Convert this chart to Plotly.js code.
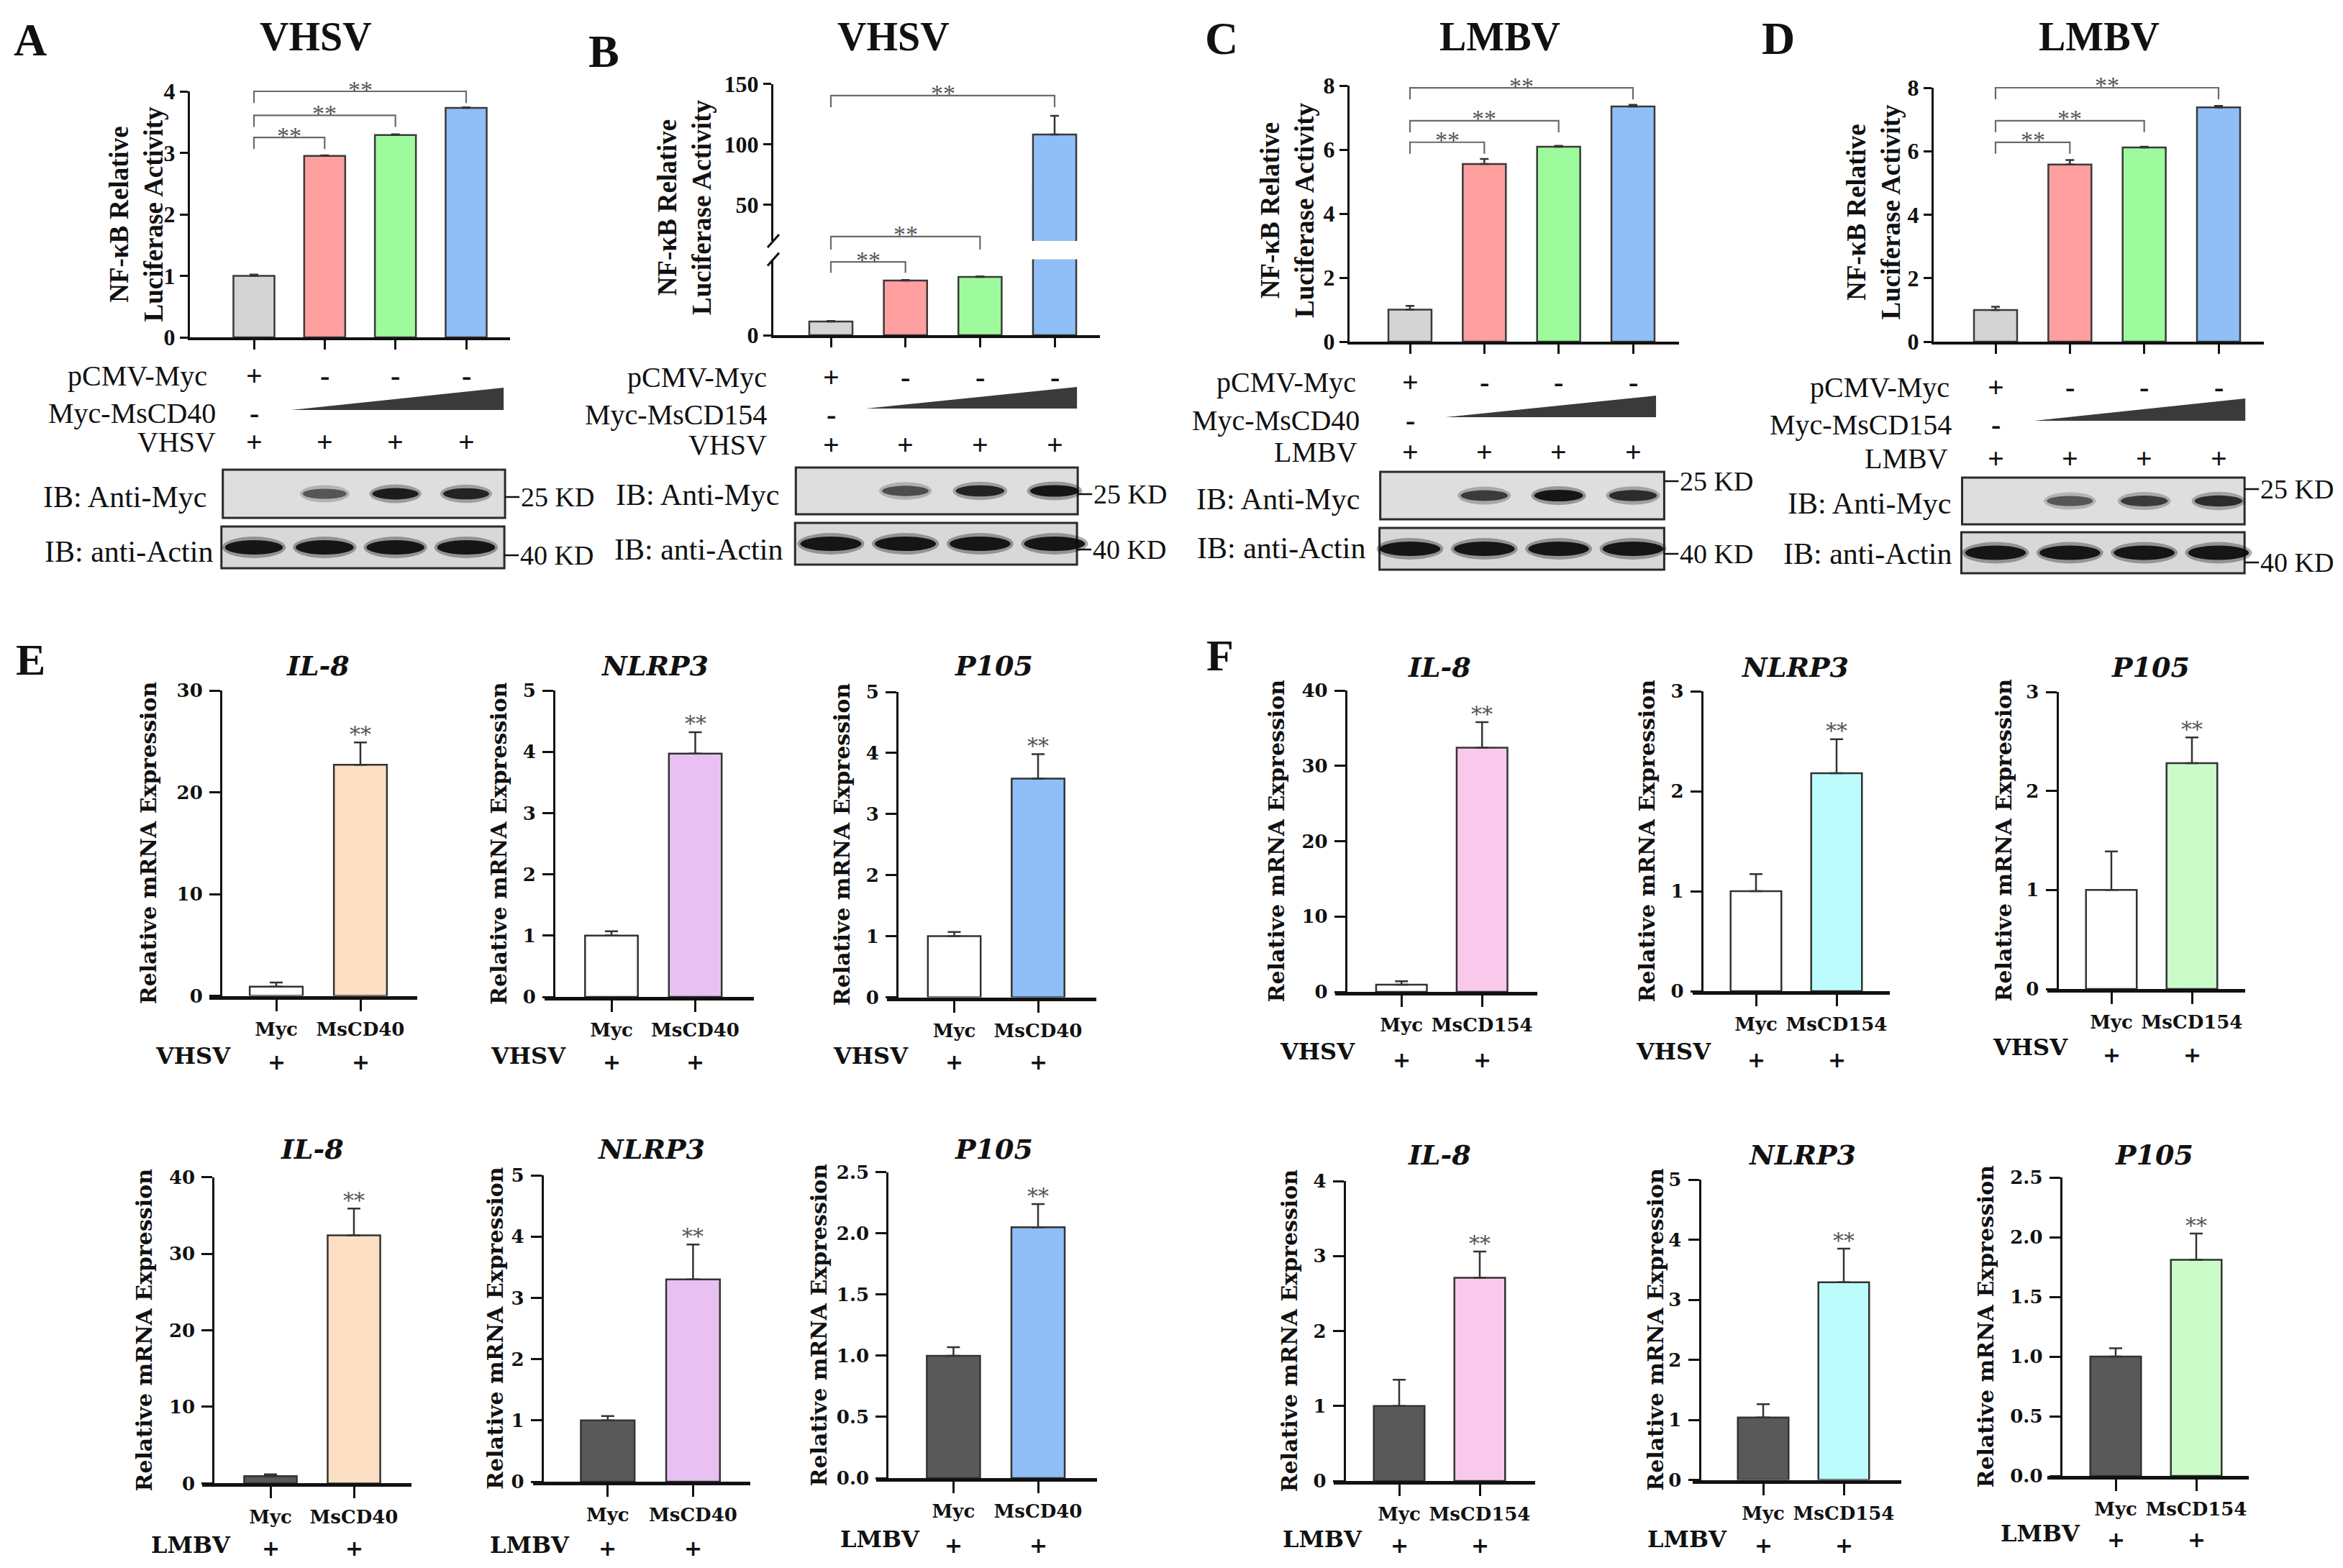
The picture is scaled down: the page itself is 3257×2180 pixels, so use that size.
<!DOCTYPE html>
<html><head><meta charset="utf-8">
<script src="https://cdn.plot.ly/plotly-3.0.1.min.js"></script>
<style>html,body{margin:0;padding:0;background:#fff}#chart{width:3257px;height:2180px}</style>
</head><body><div id="chart"></div>
<script>
// ================= DATA =================
// Panels A-D : NF-kB luciferase (4 lanes)
const laneIdx = [0, 1, 2, 3];
const lucA = [1.00, 2.95, 3.29, 3.73];
const lucAErr = [0.02, 0.01, 0.01, 0.01];
const lucB = [1.0, 4.0, 4.26, 108];
const lucBErr = [0.04, 0.04, 0.04, 15.5];
const lucC = [1.0, 5.55, 6.09, 7.35];
const lucCErr = [0.12, 0.16, 0.03, 0.05];
const lucD = [1.0, 5.58, 6.12, 7.38];
const lucDErr = [0.10, 0.14, 0.02, 0.05];
const noDown4 = [0, 0, 0, 0];
const lucColors = ['#d4d4d4', '#ff9f9f', '#9efb9d', '#8fbff6'];

// treatment rows
const rowVector = ['+', '-', '-', '-'];
const rowVirus = ['+', '+', '+', '+'];
const rowConstructFirst = '-';

// western blot band intensities (0..1)
const mycBandA = [0, 0.6, 0.95, 0.9];
const mycBandB = [0, 0.65, 0.9, 1.0];
const mycBandC = [0, 0.75, 1.0, 0.85];
const mycBandD = [0, 0.6, 0.75, 0.85];
const actinBand = [1, 1, 1, 1];

// Panels E-F : qPCR (2 groups)
const qCats = [0, 1];
const noDown2 = [0, 0];
const qLabelsCD40 = ['Myc', 'MsCD40'];
const qLabelsCD154 = ['Myc', 'MsCD154'];
const eVhsvIL8 = [0.9, 22.7], eVhsvIL8Err = [0.4, 2.2];
const eVhsvNLRP3 = [1.0, 3.97], eVhsvNLRP3Err = [0.07, 0.35];
const eVhsvP105 = [1.0, 3.58], eVhsvP105Err = [0.07, 0.4];
const eLmbvIL8 = [0.95, 32.4], eLmbvIL8Err = [0.25, 3.5];
const eLmbvNLRP3 = [1.0, 3.3], eLmbvNLRP3Err = [0.07, 0.57];
const eLmbvP105 = [1.0, 2.05], eLmbvP105Err = [0.07, 0.19];
const fVhsvIL8 = [0.95, 32.4], fVhsvIL8Err = [0.45, 3.4];
const fVhsvNLRP3 = [1.0, 2.18], fVhsvNLRP3Err = [0.17, 0.34];
const fVhsvP105 = [1.0, 2.28], fVhsvP105Err = [0.39, 0.26];
const fLmbvIL8 = [1.0, 2.71], fLmbvIL8Err = [0.35, 0.35];
const fLmbvNLRP3 = [1.04, 3.29], fLmbvNLRP3Err = [0.22, 0.56];
const fLmbvP105 = [1.0, 1.81], fLmbvP105Err = [0.07, 0.22];
const colIL8E = '#fde0c4', colNLRP3E = '#e8c1f2', colP105E = '#8fbff6';
const colIL8F = '#f9c9ec', colNLRP3F = '#bdfcfc', colP105F = '#cafbc9';
const ctrlVhsv = '#ffffff', ctrlLmbv = '#595959';

// ================= LAYOUT HELPERS =================
const W = 3257, H = 2180;
const X = p => p / W, Y = p => 1 - p / H;
const serif = '"Liberation Serif","Times New Roman",serif';
const dserif = '"DejaVu Serif","Liberation Serif",serif';
const data = [], shapes = [], annotations = [];
const layout = {width: W, height: H, margin: {l: 0, r: 0, t: 0, b: 0}, paper_bgcolor: '#ffffff',
  plot_bgcolor: 'rgba(0,0,0,0)', showlegend: false, shapes: shapes, annotations: annotations, bargap: 0};
let axN = 0;
function refs(n) { return {xk: n === 1 ? 'xaxis' : 'xaxis' + n, yk: n === 1 ? 'yaxis' : 'yaxis' + n,
  xr: n === 1 ? 'x' : 'x' + n, yr: n === 1 ? 'y' : 'y' + n}; }
function ann(o) { annotations.push(Object.assign({showarrow: false}, o)); }
function ptxt(x, y, text, font, opts) {
  ann(Object.assign({xref: 'paper', yref: 'paper', x: X(x), y: Y(y), text: text, font: font,
    xanchor: 'center', yanchor: 'middle'}, opts || {}));
}
const F = (family, size, color) => ({family: family, size: size, color: color || '#111'});

// ================= PANELS A-D =================
const lucPanels = [
  {letter: 'A', letterXY: [42, 55], title: 'VHSV', titleXY: [439, 51], vals: lucA, err: lucAErr, bands: mycBandA,
   construct: 'Myc-MsCD40', virus: 'VHSV', yAx: 264, xEnd: 709, c0: 353, c3: 648, y0px: 469, yTopPx: 127, yTop: 4, dtick: 1,
   ytitle: [189.5, 298], rows: [522, 574, 615], rowRight: [290, 302, 302], tri: [0.53, 570, 3.53, 539],
   blot1: [-0.44, 653, 3.55, 720], blot2: [-0.46, 732, 3.54, 790], ibRight: [290, 298], ibY: [691, 767], kdY: [691, 772],
   brackets: [[0, 3, 4.0], [0, 2, 3.61], [0, 1, 3.25]], drop: 0.19},
  {letter: 'B', letterXY: [839, 71], title: 'VHSV', titleXY: [1242, 51], vals: lucB, err: lucBErr, bands: mycBandB,
   construct: 'Myc-MsCD154', virus: 'VHSV', yAx: 1075, xEnd: 1529, c0: 1155, c3: 1466, y0px: 466, yTopPx: 360.5, yTop: 5.55, tickvals: [0],
   upper: {botPx: 334.9, topPx: 116.5, r0: 20, r1: 150, tickvals: [50, 100, 150]},
   ytitle: [951, 289], rows: [524, 576, 618], rowRight: [1068, 1068, 1068], tri: [0.47, 568, 3.30, 538],
   blot1: [-0.47, 650, 3.31, 715], blot2: [-0.48, 727, 3.30, 785], ibRight: [1086, 1090], ibY: [688, 764], kdY: [687, 764],
   brackets: [[0, 3, 140.3, 'u', 9.6], [0, 2, 7.21, 'l', 0.95], [0, 1, 5.36, 'l', 0.8]]},
  {letter: 'C', letterXY: [1698, 53], title: 'LMBV', titleXY: [2085, 51], vals: lucC, err: lucCErr, bands: mycBandC,
   construct: 'Myc-MsCD40', virus: 'LMBV', yAx: 1876, xEnd: 2334, c0: 1960, c3: 2270, y0px: 475, yTopPx: 119, yTop: 8, dtick: 2,
   ytitle: [1790, 293], rows: [532, 584, 629], rowRight: [1887, 1892, 1889], tri: [0.48, 580, 3.31, 550],
   blot1: [-0.40, 656, 3.42, 722], blot2: [-0.41, 734, 3.42, 792], ibRight: [1893, 1900], ibY: [694, 762], kdY: [669, 770],
   brackets: [[0, 3, 7.93], [0, 2, 6.9], [0, 1, 6.23]], drop: 0.36},
  {letter: 'D', letterXY: [2472, 53], title: 'LMBV', titleXY: [2918, 51], vals: lucD, err: lucDErr, bands: mycBandD,
   construct: 'Myc-MsCD154', virus: 'LMBV', yAx: 2688, xEnd: 3147, c0: 2774, c3: 3084, y0px: 475, yTopPx: 122, yTop: 8, dtick: 2,
   ytitle: [2603.5, 295], rows: [538, 590, 637], rowRight: [2712, 2715, 2710], tri: [0.52, 585, 3.36, 554],
   blot1: [-0.45, 664, 3.35, 729], blot2: [-0.46, 740, 3.35, 797], ibRight: [2715, 2715], ibY: [700, 770], kdY: [680, 782],
   brackets: [[0, 3, 8.0], [0, 2, 6.96], [0, 1, 6.28]], drop: 0.36}
];

function lucYAxis(domain, range, anchor, extra) {
  return Object.assign({domain: domain, range: range, anchor: anchor, showline: true, linewidth: 3, linecolor: '#111',
    ticks: 'outside', ticklen: 11, tickwidth: 3, tickcolor: '#111', showgrid: false, zeroline: false, fixedrange: true,
    tickfont: {family: serif, size: 32, color: '#111', weight: 'bold'}}, extra);
}

function bracket(xr, yr, r0, r1, i, j, lvl, drop, starFam, starSize) {
  const fr = v => (v - r0) / (r1 - r0);
  shapes.push({type: 'path', xref: xr, yref: yr + ' domain',
    path: `M ${i},${fr(lvl - drop)} L ${i},${fr(lvl)} L ${j},${fr(lvl)} L ${j},${fr(lvl - drop)}`,
    line: {color: '#6a6a6a', width: 2.2}});
  ann({xref: xr, yref: yr + ' domain', x: (i + j) / 2, y: fr(lvl), text: '**', font: F(starFam, starSize, '#555'),
    xanchor: 'center', yanchor: 'middle', yshift: 3});
}

lucPanels.forEach(p => {
  const r = refs(++axN);
  const sp = (p.c3 - p.c0) / 3;
  const lx = px => (px - p.c0) / sp;
  layout[r.xk] = {domain: [X(p.yAx), X(p.xEnd)], range: [lx(p.yAx), lx(p.xEnd)], anchor: r.yr, showline: true,
    linewidth: 3.5, linecolor: '#111', ticks: 'outside', ticklen: 13, tickwidth: 3, tickcolor: '#111',
    tickvals: laneIdx, showticklabels: false, showgrid: false, zeroline: false, fixedrange: true};
  const yExtra = p.tickvals ? {tickvals: p.tickvals} : {dtick: p.dtick, tick0: 0};
  layout[r.yk] = lucYAxis([Y(p.y0px), Y(p.yTopPx)], [0, p.yTop], r.xr, yExtra);
  data.push({type: 'bar', x: laneIdx, y: p.vals, xaxis: r.xr, yaxis: r.yr, width: 0.58,
    marker: {color: lucColors, line: {color: '#3a3a3a', width: 2.5}},
    error_y: {type: 'data', symmetric: false, array: p.err, arrayminus: noDown4, color: '#333', thickness: 2.5, width: 6},
    hoverinfo: 'skip'});
  let up = null;
  if (p.upper) {
    up = refs(++axN);
    layout[up.yk] = lucYAxis([Y(p.upper.botPx), Y(p.upper.topPx)], [p.upper.r0, p.upper.r1], r.xr, {tickvals: p.upper.tickvals});
    data.push({type: 'bar', x: [laneIdx[3]], y: [p.vals[3]], xaxis: r.xr, yaxis: up.yr, width: 0.58,
      marker: {color: [lucColors[3]], line: {color: '#3a3a3a', width: 2.5}},
      error_y: {type: 'data', symmetric: false, array: [p.err[3]], arrayminus: [0], color: '#333', thickness: 2.5, width: 6},
      hoverinfo: 'skip'});
    // axis break marks
    [[p.yAx, p.yTopPx], [p.yAx, p.upper.botPx]].forEach(([bx, by]) => {
      shapes.push({type: 'line', xref: 'paper', yref: 'paper', x0: X(bx - 8), y0: Y(by + 9), x1: X(bx + 8), y1: Y(by - 9),
        line: {color: '#111', width: 3}});
    });
  }
  // brackets
  p.brackets.forEach(b => {
    if (b[3] === 'u') bracket(r.xr, up.yr, p.upper.r0, p.upper.r1, b[0], b[1], b[2], b[4], serif, 34);
    else if (b[3] === 'l') bracket(r.xr, r.yr, 0, p.yTop, b[0], b[1], b[2], b[4], serif, 34);
    else bracket(r.xr, r.yr, 0, p.yTop, b[0], b[1], b[2], p.drop, serif, 34);
  });
  // letter & title
  ptxt(p.letterXY[0], p.letterXY[1], '<b>' + p.letter + '</b>', F(serif, 64));
  ptxt(p.titleXY[0], p.titleXY[1], '<b>' + p.title + '</b>', F(serif, 56));
  ann({xref: 'paper', yref: 'paper', x: X(p.ytitle[0]), y: Y(p.ytitle[1]), textangle: -90,
    text: '<b>NF-κB Relative<br>Luciferase Activity</b>', font: F(serif, 37), xanchor: 'center', yanchor: 'middle'});
  // treatment rows
  const rowNames = ['pCMV-Myc', p.construct, p.virus];
  rowNames.forEach((nm, k) => ptxt(p.rowRight[k], p.rows[k], nm, F(serif, 40), {xanchor: 'right'}));
  rowVector.forEach((s, k) => ann({xref: r.xr, yref: 'paper', x: laneIdx[k], y: Y(p.rows[0]), text: '<b>' + s + '</b>',
    font: F(serif, 40), xanchor: 'center', yanchor: 'middle'}));
  ann({xref: r.xr, yref: 'paper', x: laneIdx[0], y: Y(p.rows[1]), text: '<b>' + rowConstructFirst + '</b>',
    font: F(serif, 40), xanchor: 'center', yanchor: 'middle'});
  rowVirus.forEach((s, k) => ann({xref: r.xr, yref: 'paper', x: laneIdx[k], y: Y(p.rows[2]), text: '<b>' + s + '</b>',
    font: F(serif, 40), xanchor: 'center', yanchor: 'middle'}));
  // dose triangle
  const t = p.tri;
  shapes.push({type: 'path', xref: r.xr, yref: 'paper',
    path: `M ${t[0]},${Y(t[1])} L ${t[2]},${Y(t[3])} L ${t[2]},${Y(t[1])} Z`, fillcolor: '#3a3a3a', line: {width: 0}});
  // blots
  [[p.blot1, p.bands, '#dedede', 0.66, 16], [p.blot2, actinBand, '#d8d8d8', 0.82, 20]].forEach(([bl, bands, bg, bw, bh], bi) => {
    shapes.push({type: 'rect', xref: r.xr, yref: 'paper', x0: bl[0], x1: bl[2], y0: Y(bl[3]), y1: Y(bl[1]),
      fillcolor: bg, line: {color: '#2a2a2a', width: 3}});
    const cy = (bl[1] + bl[3]) / 2;
    bands.forEach((it, k) => {
      if (it <= 0) return;
      const w = bw * (0.85 + 0.15 * it), h = bh * (0.7 + 0.3 * it);
      shapes.push({type: 'circle', xref: r.xr, yref: 'paper', x0: laneIdx[k] - w / 2 - 0.04, x1: laneIdx[k] + w / 2 + 0.04,
        y0: Y(cy + h / 2 + 5), y1: Y(cy - h / 2 - 5), fillcolor: `rgba(20,20,20,${0.35 * it})`, line: {width: 0}});
      shapes.push({type: 'circle', xref: r.xr, yref: 'paper', x0: laneIdx[k] - w / 2, x1: laneIdx[k] + w / 2,
        y0: Y(cy + h / 2), y1: Y(cy - h / 2), fillcolor: `rgba(10,10,10,${0.92 * it})`, line: {width: 0}});
    });
    const rightPx = p.c0 + bl[2] * sp;
    const kdy = p.kdY[bi];
    shapes.push({type: 'line', xref: 'paper', yref: 'paper', x0: X(rightPx), x1: X(rightPx + 20), y0: Y(kdy), y1: Y(kdy),
      line: {color: '#111', width: 2.5}});
    ptxt(rightPx + 20, kdy, bi === 0 ? '25 KD' : '40 KD', F(serif, 38), {xanchor: 'left'});
    ptxt(p.ibRight[bi], p.ibY[bi], bi === 0 ? 'IB: Anti-Myc' : 'IB: anti-Actin', F(serif, 42), {xanchor: 'right'});
  });
});

// ================= PANELS E-F =================
ptxt(42, 917, '<b>E</b>', F(serif, 62));
ptxt(1696, 911, '<b>F</b>', F(serif, 62));

const qPanels = [
  {vals: eVhsvIL8, err: eVhsvIL8Err, color: colIL8E, ctrl: ctrlVhsv, title: 'IL-8', labels: qLabelsCD40, virus: 'VHSV',
   yAx: 307, xs: 291, xe: 580, c0: 384, c1: 501, y0px: 1384.5, yTopPx: 960, yTop: 30, dtick: 10,
   titleXY: [442, 925], ytitleX: 206, virusRight: 323, virusY: 1468, plusY: 1476},
  {vals: eVhsvNLRP3, err: eVhsvNLRP3Err, color: colNLRP3E, ctrl: ctrlVhsv, title: 'NLRP3', labels: qLabelsCD40, virus: 'VHSV',
   yAx: 770, xs: 757, xe: 1048, c0: 850, c1: 966.5, y0px: 1386, yTopPx: 960, yTop: 5, dtick: 1,
   titleXY: [910, 925], ytitleX: 693, virusRight: 789, virusY: 1468, plusY: 1476},
  {vals: eVhsvP105, err: eVhsvP105Err, color: colP105E, ctrl: ctrlVhsv, title: 'P105', labels: qLabelsCD40, virus: 'VHSV',
   yAx: 1247, xs: 1233, xe: 1524, c0: 1326.5, c1: 1443, y0px: 1386.5, yTopPx: 962, yTop: 5, dtick: 1,
   titleXY: [1381.5, 925], ytitleX: 1170, virusRight: 1265, virusY: 1468, plusY: 1476},
  {vals: eLmbvIL8, err: eLmbvIL8Err, color: colIL8E, ctrl: ctrlLmbv, title: 'IL-8', labels: qLabelsCD40, virus: 'LMBV',
   yAx: 296.4, xs: 280.5, xe: 571.7, c0: 376, c1: 492, y0px: 2062.4, yTopPx: 1636.7, yTop: 40, dtick: 10,
   titleXY: [434, 1597], ytitleX: 201, virusRight: 323, virusY: 2148, plusY: 2152},
  {vals: eLmbvNLRP3, err: eLmbvNLRP3Err, color: colNLRP3E, ctrl: ctrlLmbv, title: 'NLRP3', labels: qLabelsCD40, virus: 'LMBV',
   yAx: 753.8, xs: 741, xe: 1042.8, c0: 844.8, c1: 963.4, y0px: 2060, yTopPx: 1634, yTop: 5, dtick: 1,
   titleXY: [905, 1597], ytitleX: 688, virusRight: 794, virusY: 2148, plusY: 2152},
  {vals: eLmbvP105, err: eLmbvP105Err, color: colP105E, ctrl: ctrlLmbv, title: 'P105', labels: qLabelsCD40, virus: 'LMBV',
   yAx: 1233.3, xs: 1217.5, xe: 1524.5, c0: 1325.4, c1: 1443, y0px: 2055, yTopPx: 1629.8, yTop: 2.5, dtick: 0.5, fmt: '.1f',
   titleXY: [1381.5, 1597], ytitleX: 1138, virusRight: 1281, virusY: 2140, plusY: 2148},
  {vals: fVhsvIL8, err: fVhsvIL8Err, color: colIL8F, ctrl: ctrlVhsv, title: 'IL-8', labels: qLabelsCD154, virus: 'VHSV',
   yAx: 1870.8, xs: 1855.5, xe: 2136.6, c0: 1948.2, c1: 2060.2, y0px: 1379, yTopPx: 960, yTop: 40, dtick: 10,
   titleXY: [2001, 927], ytitleX: 1774, virusRight: 1886, virusY: 1462, plusY: 1473},
  {vals: fVhsvNLRP3, err: fVhsvNLRP3Err, color: colNLRP3F, ctrl: ctrlVhsv, title: 'NLRP3', labels: qLabelsCD154, virus: 'VHSV',
   yAx: 2365.7, xs: 2352.5, xe: 2627.4, c0: 2441, c1: 2553, y0px: 1378, yTopPx: 961, yTop: 3, dtick: 1,
   titleXY: [2495, 927], ytitleX: 2289, virusRight: 2381, virusY: 1462, plusY: 1473},
  {vals: fVhsvP105, err: fVhsvP105Err, color: colP105F, ctrl: ctrlVhsv, title: 'P105', labels: qLabelsCD154, virus: 'VHSV',
   yAx: 2859.6, xs: 2846.4, xe: 3121.3, c0: 2935, c1: 3047, y0px: 1375, yTopPx: 962, yTop: 3, dtick: 1,
   titleXY: [2989, 927], ytitleX: 2785, virusRight: 2877, virusY: 1456, plusY: 1466},
  {vals: fLmbvIL8, err: fLmbvIL8Err, color: colIL8F, ctrl: ctrlLmbv, title: 'IL-8', labels: qLabelsCD154, virus: 'LMBV',
   yAx: 1868.8, xs: 1853.5, xe: 2133.5, c0: 1945, c1: 2057, y0px: 2059, yTopPx: 1642, yTop: 4, dtick: 1,
   titleXY: [2001, 1605], ytitleX: 1792, virusRight: 1896, virusY: 2140, plusY: 2148},
  {vals: fLmbvNLRP3, err: fLmbvNLRP3Err, color: colNLRP3F, ctrl: ctrlLmbv, title: 'NLRP3', labels: qLabelsCD154, virus: 'LMBV',
   yAx: 2362.6, xs: 2352.5, xe: 2642.7, c0: 2451, c1: 2563, y0px: 2057.5, yTopPx: 1640, yTop: 5, dtick: 1,
   titleXY: [2505, 1605], ytitleX: 2302, virusRight: 2403, virusY: 2140, plusY: 2148},
  {vals: fLmbvP105, err: fLmbvP105Err, color: colP105F, ctrl: ctrlLmbv, title: 'P105', labels: qLabelsCD154, virus: 'LMBV',
   yAx: 2864.7, xs: 2846.4, xe: 3126.4, c0: 2941, c1: 3053, y0px: 2052, yTopPx: 1637, yTop: 2.5, dtick: 0.5, fmt: '.1f',
   titleXY: [2994, 1605], ytitleX: 2760, virusRight: 2894, virusY: 2132, plusY: 2140}
];

qPanels.forEach(q => {
  const r = refs(++axN);
  const sp = q.c1 - q.c0;
  const lx = px => (px - q.c0) / sp;
  layout[r.xk] = {domain: [X(q.xs), X(q.xe)], range: [lx(q.xs), lx(q.xe)], anchor: r.yr, showline: true, linewidth: 5,
    linecolor: '#111', ticks: 'outside', ticklen: 16, tickwidth: 3, tickcolor: '#111', tickvals: qCats, ticktext: q.labels,
    tickfont: {family: dserif, size: 26, color: '#111', weight: 'bold'}, ticklabelstandoff: 3,
    showgrid: false, zeroline: false, fixedrange: true};
  layout[r.yk] = {domain: [Y(q.y0px), Y(q.yTopPx)], range: [0, q.yTop], anchor: 'free', position: X(q.yAx),
    showline: true, linewidth: 3, linecolor: '#111', ticks: 'outside', ticklen: 15, tickwidth: 3, tickcolor: '#111',
    dtick: q.dtick, tick0: 0, tickformat: q.fmt || '', ticklabelstandoff: 4,
    tickfont: {family: dserif, size: 26, color: '#111', weight: 'bold'}, showgrid: false, zeroline: false, fixedrange: true};
  data.push({type: 'bar', x: qCats, y: q.vals, xaxis: r.xr, yaxis: r.yr, width: 0.63,
    marker: {color: [q.ctrl, q.color], line: {color: '#333', width: 2.5}},
    error_y: {type: 'data', symmetric: false, array: q.err, arrayminus: noDown2, color: '#333', thickness: 2.5, width: 9},
    hoverinfo: 'skip'});
  ann({xref: r.xr, yref: r.yr, x: qCats[1], y: q.vals[1] + q.err[1], text: '**', font: F(dserif, 30, '#555'),
    xanchor: 'center', yanchor: 'middle', yshift: 12});
  ptxt(q.titleXY[0], q.titleXY[1], '<b><i>' + q.title + '</i></b>', F(dserif, 38));
  ann({xref: 'paper', yref: 'paper', x: X(q.ytitleX), y: Y((q.y0px + q.yTopPx) / 2), textangle: -90,
    text: '<b>Relative mRNA Expression</b>', font: F(dserif, 30), xanchor: 'center', yanchor: 'middle'});
  ptxt(q.virusRight, q.virusY, '<b>' + q.virus + '</b>', F(dserif, 32), {xanchor: 'right'});
  qCats.forEach(c => ann({xref: r.xr, yref: 'paper', x: c, y: Y(q.plusY), text: '<b>+</b>', font: F(dserif, 30),
    xanchor: 'center', yanchor: 'middle'}));
});

Plotly.newPlot('chart', data, layout, {displayModeBar: false, staticPlot: true});
</script></body></html>
